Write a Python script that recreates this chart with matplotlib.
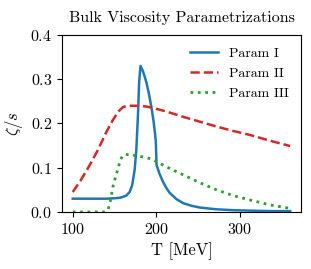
import matplotlib
matplotlib.use("Agg")
import matplotlib.pyplot as plt

plt.rcParams['font.family'] = 'serif'
plt.rcParams['font.serif'] = ['cmr10']
plt.rcParams['mathtext.fontset'] = 'cm'
plt.rcParams['axes.formatter.use_mathtext'] = True

# Param I
t1 = [100, 140, 150, 156, 160, 164, 168, 171, 174, 176, 178, 179.4, 181,
      184, 188.2, 191, 194.2, 196.5, 198.2, 199.3, 200.2,
      204, 208, 212, 216, 224, 232, 242, 252, 262, 272, 292, 312, 336, 360]
z1 = [0.030, 0.030, 0.031, 0.032, 0.034, 0.037, 0.045, 0.060, 0.095, 0.14,
      0.22, 0.294, 0.330, 0.318, 0.292, 0.268, 0.235, 0.207, 0.180, 0.16,
      0.106, 0.085, 0.068, 0.054, 0.043, 0.029, 0.020, 0.014, 0.010, 0.008,
      0.006, 0.004, 0.003, 0.002, 0.002]

# Param II
t2 = [100, 110, 120, 130, 140, 148, 155, 160, 165, 175, 185, 192, 212,
      232, 252, 272, 292, 312, 336, 360]
z2 = [0.045, 0.073, 0.105, 0.140, 0.180, 0.208, 0.228, 0.237, 0.240, 0.240,
      0.239, 0.237, 0.227, 0.215, 0.204, 0.193, 0.183, 0.174, 0.161, 0.149]

# Param III
t3 = [100, 120, 138, 142, 145, 148, 151, 154, 157, 160, 163, 170, 180,
      194, 212, 232, 252, 272, 292, 312, 336, 360]
z3 = [0.0, 0.0, 0.0, 0.004, 0.025, 0.057, 0.078, 0.097, 0.118, 0.128, 0.130,
      0.129, 0.126, 0.120, 0.102, 0.084, 0.066, 0.050, 0.037, 0.027, 0.016, 0.008]

fig = plt.figure(figsize=(3.11, 2.69), dpi=100)
ax = fig.add_axes([0.199, 0.212, 0.769, 0.658])

ax.plot(t1, z1, '-', color='#1f77b4', lw=1.8, label='Param I')
ax.plot(t2, z2, '--', color='#d62728', lw=1.8, label='Param II')
ax.plot(t3, z3, ':', color='#2ca02c', lw=2.0, label='Param III')

ax.set_ylim(0, 0.4)
ax.set_xticks([100, 200, 300])
ax.set_yticks([0.0, 0.1, 0.2, 0.3, 0.4])
ax.tick_params(labelsize=11.5)
ax.set_xlabel('T [MeV]', fontsize=12)
ax.set_ylabel(r'$\zeta/s$', fontsize=12)
ax.set_title('Bulk Viscosity Parametrizations', fontsize=11.5, pad=9)
ax.legend(frameon=False, fontsize=10, loc='upper right')

fig.savefig('out.png', dpi=100)
